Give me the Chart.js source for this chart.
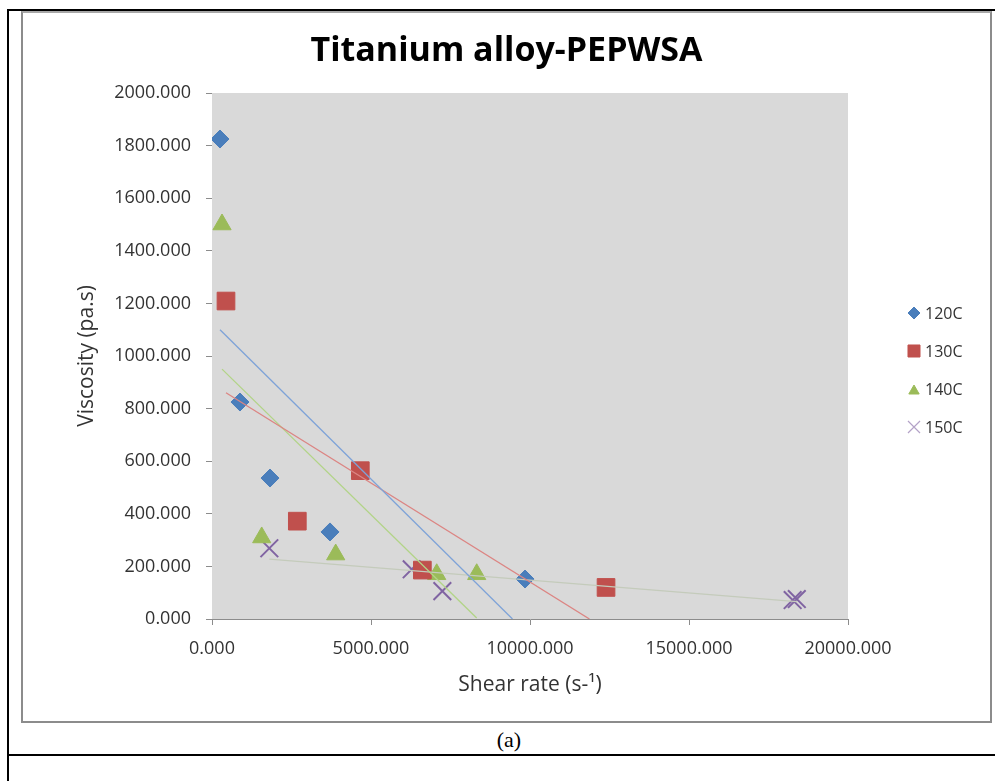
<!DOCTYPE html>
<html>
<head>
<meta charset="utf-8">
<title>Titanium alloy-PEPWSA</title>
<script src="https://cdn.jsdelivr.net/npm/chart.js@4.4.1/dist/chart.umd.min.js"></script>
<style>
  body { margin: 0; background: #fff; width: 995px; height: 781px; position: relative; overflow: hidden; }
  .rule { position: absolute; background: #000; }
  #chartBox { position: absolute; left: 21px; top: 11px; width: 967px; height: 708px; border: 2px solid #8c8c8c; border-top-color: #a8a8a8; }
  #caption { position: absolute; left: 0; width: 1018px; top: 727px; text-align: center; font: 22px "Liberation Serif", serif; }
</style>
</head>
<body>
<div class="rule" style="left:7px; top:9px; width:988px; height:2px;"></div>
<div class="rule" style="left:7px; top:9px; width:2px; height:772px;"></div>
<div class="rule" style="left:7px; top:754px; width:988px; height:2px;"></div>
<div id="chartBox"><canvas id="chart" width="967" height="708"></canvas></div>
<div id="caption">(a)</div>

<script>
// axis ticks
const xTickValues = [0, 5000, 10000, 15000, 20000];
const yTickValues = [0, 200, 400, 600, 800, 1000, 1200, 1400, 1600, 1800, 2000];

const seriesNames = ['120C', '130C', '140C', '150C'];

// shear rate (s-1) / viscosity (pa.s) per temperature
const rate120 = [252, 880, 1824, 3711, 9844];
const visc120 = [1825, 825, 536, 331, 152];
const rate130 = [440, 2683, 4664, 6615, 12391];
const visc130 = [1209, 372, 564, 186, 120];
const rate140 = [315, 1563, 3890, 7066, 8324];
const visc140 = [1500, 310, 245, 170, 170];
const rate150 = [1803, 6280, 7244, 18260, 18390];
const visc150 = [269, 189, 106, 72, 76];

// linear trend lines, end points
const trendRate120 = [252, 9450];
const trendVisc120 = [1100, 0];
const trendRate130 = [440, 11870];
const trendVisc130 = [860, 0];
const trendRate140 = [315, 8324];
const trendVisc140 = [950, 4];
const trendRate150 = [1803, 18390];
const trendVisc150 = [228, 66];

const fontFamily = "'Open Sans', sans-serif";
const textColor = '#333333';
const axisColor = '#8c8c8c';

function pts(xs, ys) {
  return xs.map(function (x, i) { return { x: x, y: ys[i] }; });
}

function markerSet(label, xs, ys, style, radius, color, width) {
  return {
    label: label,
    data: pts(xs, ys),
    pointStyle: style,
    pointRadius: radius,
    pointHoverRadius: radius,
    backgroundColor: color,
    borderColor: color,
    pointBorderWidth: width,
    showLine: false,
    order: 1
  };
}

function trendSet(label, xs, ys, color) {
  return {
    label: 'Linear (' + label + ')',
    data: pts(xs, ys),
    showLine: true,
    pointRadius: 0,
    borderColor: color,
    borderWidth: 1.3,
    order: 0
  };
}

// grey plot area like the Excel chart
const plotBackground = {
  id: 'plotBackground',
  beforeDatasetsDraw(chart) {
    const { ctx, chartArea } = chart;
    ctx.save();
    ctx.fillStyle = '#d9d9d9';
    ctx.fillRect(chartArea.left, chartArea.top, chartArea.width, chartArea.height);
    ctx.restore();
  }
};

// legend to the right of the plot, same markers as the series
const legendRadius = [6, 8.5, 6, 8.5];
const legendStroke = [1, 1, 1, 1.2];
const sideLegend = {
  id: 'sideLegend',
  afterDraw(chart) {
    const { ctx, chartArea } = chart;
    const markX = chartArea.right + 66;
    ctx.save();
    ctx.font = '16px ' + fontFamily;
    ctx.textBaseline = 'middle';
    ctx.textAlign = 'left';
    seriesNames.forEach(function (name, i) {
      const ds = chart.data.datasets[i + 4];
      const y = chartArea.top + 220 + i * 38;
      ctx.fillStyle = ds.backgroundColor;
      ctx.strokeStyle = i === 3 ? '#b3a2c7' : ds.borderColor;
      ctx.lineWidth = legendStroke[i];
      Chart.helpers.drawPoint(ctx, {
        pointStyle: ds.pointStyle,
        radius: legendRadius[i],
        borderWidth: legendStroke[i],
        rotation: 0
      }, markX, y + (ds.pointStyle === 'triangle' ? 2 : 0));
      ctx.fillStyle = textColor;
      ctx.fillText(name, markX + 11, y + 1);
    });
    ctx.restore();
  }
};

const chartConfig = {
  type: 'scatter',
  data: {
    datasets: [
      trendSet('120C', trendRate120, trendVisc120, '#7ea3d8'),
      trendSet('130C', trendRate130, trendVisc130, '#dc8583'),
      trendSet('140C', trendRate140, trendVisc140, '#b2d487'),
      trendSet('150C', trendRate150, trendVisc150, '#c4cbbb'),
      markerSet(seriesNames[0], rate120, visc120, 'rectRot', 9, '#4a7ebb', 1),
      markerSet(seriesNames[1], rate130, visc130, 'rect', 12.5, '#c0504d', 1),
      markerSet(seriesNames[2], rate140, visc140, 'triangle', 10.5, '#9bbb59', 1),
      markerSet(seriesNames[3], rate150, visc150, 'crossRot', 12.5, '#8064a2', 2)
    ]
  },
  options: {
    responsive: false,
    animation: false,
    events: [],
    layout: { padding: { left: 0, right: 0, top: 0, bottom: 12 } },
    scales: {
      x: {
        type: 'linear',
        min: 0,
        max: 20000,
        afterBuildTicks: function (scale) {
          scale.ticks = xTickValues.map(function (v) { return { value: v }; });
        },
        afterFit: function (scale) {
          scale.height = 90;
          scale.paddingRight = 142;
        },
        ticks: {
          callback: function (v) { return v.toFixed(3); },
          color: textColor,
          font: { family: fontFamily, size: 18 },
          padding: 13,
          maxRotation: 0
        },
        grid: { drawOnChartArea: false, tickLength: 6, color: axisColor },
        border: { color: axisColor },
        title: {
          display: true,
          text: 'Shear rate (s-¹)',
          color: textColor,
          font: { family: fontFamily, size: 21 },
          padding: { top: 0, bottom: 11.4 }
        }
      },
      y: {
        type: 'linear',
        min: 0,
        max: 2000,
        afterBuildTicks: function (scale) {
          scale.ticks = yTickValues.map(function (v) { return { value: v }; });
        },
        afterFit: function (scale) {
          scale.width = 189;
        },
        ticks: {
          callback: function (v) { return v.toFixed(3); },
          color: textColor,
          font: { family: fontFamily, size: 18 },
          padding: 15
        },
        grid: { drawOnChartArea: false, tickLength: 6, color: axisColor },
        border: { color: axisColor },
        title: {
          display: true,
          text: 'Viscosity (pa.s)',
          color: textColor,
          font: { family: fontFamily, size: 21 },
          padding: { top: 51, bottom: 0 }
        }
      }
    },
    plugins: {
      legend: { display: false },
      tooltip: { enabled: false },
      title: {
        display: true,
        text: 'Titanium alloy-PEPWSA',
        color: '#000',
        font: { family: fontFamily, size: 34, weight: 'bold' },
        padding: { top: 17.6, bottom: 21.6 }
      }
    }
  },
  plugins: [plotBackground, sideLegend]
};

var viscosityChart = new Chart(document.getElementById('chart'), chartConfig);
</script>
</body>
</html>
